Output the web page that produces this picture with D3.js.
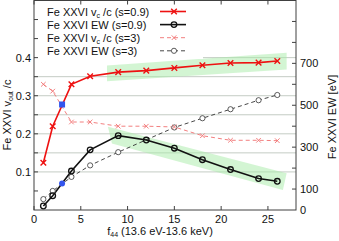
<!DOCTYPE html>
<html>
<head>
<meta charset="utf-8">
<script src="https://cdn.jsdelivr.net/npm/d3@7"></script>
<style>
  body { margin: 0; background: #fff; }
  svg text { font-family: "Liberation Sans", Arial, sans-serif; font-size: 11px; fill: #111; }
</style>
</head>
<body>
<svg id="viz"></svg>
<script>
let width = 339;
let height = 241;
let margin = {left: 34, right: 43, top: 0.5, bottom: 31};

// f44 values and series
let fS09 = [1, 2, 4, 6, 9, 12, 15, 18, 21, 24, 26];
let vcS09 = [0.124, 0.22, 0.33, 0.351, 0.362, 0.366, 0.373, 0.38, 0.386, 0.387, 0.391];
let ewS09 = [19, 68, 186, 287, 355, 334, 295, 240, 193, 150, 137];

let fVcS3 = [1, 2, 4, 6, 9, 12, 15, 18, 21, 24, 26];
let vcS3 = [0.33, 0.312, 0.231, 0.231, 0.22, 0.22, 0.218, 0.195, 0.183, 0.183, 0.182];

let fEwS3 = [1, 2, 4, 6, 9, 15, 18, 21, 24, 26];
let ewS3 = [52, 91, 158, 213, 276, 394, 438, 481, 524, 549];

// highlighted points at f44 = 3
let blueVc = [3, 0.277];
let blueEw = [3, 126];

// shaded trend bands: [f44, value]
let bandVc = [[7.8, 0.3796], [27, 0.413], [27, 0.369], [7.8, 0.3377]];
let bandEw = [[7.9, 397], [27, 175], [26.6, 95], [8.33, 317]];

let xTicks = [0, 5, 10, 15, 20, 25];
let leftTicks = [0.05, 0.1, 0.15, 0.2, 0.25, 0.3, 0.35, 0.4, 0.45, 0.5];
let leftLabels = [0.1, 0.2, 0.3, 0.4];
let gridValues = [0.1, 0.15, 0.2, 0.25, 0.3, 0.35, 0.4];
let rightTicks = [100, 200, 300, 400, 500, 600, 700, 800, 900];
let rightLabels = [0, 100, 300, 500, 700];

let legendItems = [
    {label: "Fe XXVI v", sub: "c", tail: " /c (s=0.9)", kind: "redSolid"},
    {label: "Fe XXVI EW (s=0.9)", sub: "", tail: "", kind: "blackSolid"},
    {label: "Fe XXVI v", sub: "c", tail: " /c (s=3)", kind: "redDash"},
    {label: "Fe XXVI EW (s=3)", sub: "", tail: "", kind: "blackDash"}
];

let svg = d3.select("#viz").attr("width", width).attr("height", height);

let x = d3.scaleLinear().domain([0, 28]).range([margin.left, width - margin.right]);
let yL = d3.scaleLinear().domain([0, 0.55]).range([height - margin.bottom, margin.top]);
let yR = d3.scaleLinear().domain([0, 1000]).range([height - margin.bottom, margin.top]);

let x0 = x.range()[0], x1 = x.range()[1];
let yBot = yL.range()[0], yTop = yL.range()[1];
let axisColor = "#404040";

// grid
svg.append("g").selectAll("line").data(gridValues).enter().append("line")
    .attr("x1", x0).attr("x2", x1)
    .attr("y1", d => yL(d)).attr("y2", d => yL(d))
    .attr("stroke", "#c4ccc4").attr("stroke-width", 1);

// bands
function drawBand(pts, ys) {
    svg.append("polygon")
        .attr("points", pts.map(p => x(p[0]) + "," + ys(p[1])).join(" "))
        .attr("fill", "#a8eca8").attr("fill-opacity", 0.5);
}
drawBand(bandVc, yL);
drawBand(bandEw, yR);

// legend background
svg.append("rect").attr("x", x0 + 1).attr("y", 1).attr("width", 168).attr("height", 58).attr("fill", "#fff");

// lines
function drawLine(xs, ys, scale, color, w, dash) {
    let line = d3.line().x((d, i) => x(xs[i])).y(d => scale(d));
    svg.append("path").datum(ys).attr("d", line)
        .attr("fill", "none").attr("stroke", color).attr("stroke-width", w)
        .attr("stroke-dasharray", dash);
}
function drawCross(g, cx, cy, s, color, w) {
    g.append("path")
        .attr("d", `M${cx - s},${cy - s}L${cx + s},${cy + s}M${cx - s},${cy + s}L${cx + s},${cy - s}`)
        .attr("stroke", color).attr("stroke-width", w).attr("fill", "none");
}

drawLine(fEwS3, ewS3, yR, "#333", 0.9, "4,3");
drawLine(fVcS3, vcS3, yL, "#f07070", 0.9, "4,3");
drawLine(fS09, ewS09, yR, "#111", 1.6, null);
drawLine(fS09, vcS09, yL, "#ee1111", 1.6, null);

let marks = svg.append("g");
fEwS3.forEach((f, i) => {
    marks.append("circle").attr("cx", x(f)).attr("cy", yR(ewS3[i])).attr("r", 2.6)
        .attr("fill", "#fff").attr("stroke", "#333").attr("stroke-width", 0.8);
});
fVcS3.forEach((f, i) => drawCross(marks, x(f), yL(vcS3[i]), 2.3, "#f07070", 0.9));
fS09.forEach((f, i) => {
    marks.append("circle").attr("cx", x(f)).attr("cy", yR(ewS09[i])).attr("r", 2.8)
        .attr("fill", "none").attr("stroke", "#111").attr("stroke-width", 1.3);
});
fS09.forEach((f, i) => drawCross(marks, x(f), yL(vcS09[i]), 2.8, "#ee1111", 1.4));

marks.append("rect").attr("x", x(blueVc[0]) - 3).attr("y", yL(blueVc[1]) - 3)
    .attr("width", 6).attr("height", 6).attr("fill", "#3355ee");
marks.append("circle").attr("cx", x(blueEw[0])).attr("cy", yR(blueEw[1])).attr("r", 3)
    .attr("fill", "#3355ee");

// frame
let frame = svg.append("g").attr("stroke", axisColor).attr("stroke-width", 1);
frame.append("rect").attr("x", x0).attr("y", yTop).attr("width", x1 - x0).attr("height", yBot - yTop)
    .attr("fill", "none");
xTicks.forEach(t => {
    frame.append("line").attr("x1", x(t)).attr("x2", x(t)).attr("y1", yBot).attr("y2", yBot - 4);
    frame.append("line").attr("x1", x(t)).attr("x2", x(t)).attr("y1", yTop).attr("y2", yTop + 4);
});
leftTicks.forEach(t => {
    frame.append("line").attr("x1", x0).attr("x2", x0 + 4).attr("y1", yL(t)).attr("y2", yL(t));
});
rightTicks.forEach(t => {
    frame.append("line").attr("x1", x1).attr("x2", x1 - 4).attr("y1", yR(t)).attr("y2", yR(t));
});

// tick labels
svg.append("g").selectAll("text").data(xTicks).enter().append("text")
    .attr("x", d => x(d)).attr("y", yBot + 13).attr("text-anchor", "middle").text(d => d);
svg.append("g").selectAll("text").data(leftLabels).enter().append("text")
    .attr("x", x0 - 3).attr("y", d => yL(d) + 4).attr("text-anchor", "end").text(d => d);
svg.append("g").selectAll("text").data(rightLabels).enter().append("text")
    .attr("x", x1 + 4).attr("y", d => yR(d) + 4).attr("text-anchor", "start").text(d => d);

// axis titles
let yt = svg.append("text").attr("transform", "translate(11,115) rotate(-90)").attr("text-anchor", "middle");
yt.append("tspan").text("Fe XXVI v");
yt.append("tspan").attr("font-size", "7px").attr("dy", 2).text("out");
yt.append("tspan").attr("dy", -2).text(" /c");

svg.append("text").attr("transform", "translate(336,117) rotate(-90)").attr("text-anchor", "middle")
    .text("Fe XXVI EW [eV]");

let xt = svg.append("text").attr("x", 160).attr("y", 235).attr("text-anchor", "middle");
xt.append("tspan").text("f");
xt.append("tspan").attr("font-size", "7px").attr("dy", 2).text("44");
xt.append("tspan").attr("dy", -2).text(" (13.6 eV-13.6 keV)");

// legend
let legend = svg.append("g");
legendItems.forEach((item, i) => {
    let by = 15.5 + i * 13.1;
    let t = legend.append("text").attr("x", 47).attr("y", by);
    t.append("tspan").text(item.label);
    if (item.sub) {
        t.append("tspan").attr("font-size", "7px").attr("dy", 2).text(item.sub);
        t.append("tspan").attr("dy", -2).text(item.tail);
    }
    let ly = by - 4;
    let sx0 = 160, sx1 = 186, mx = 174;
    if (item.kind === "redSolid") {
        legend.append("line").attr("x1", sx0).attr("x2", sx1).attr("y1", ly).attr("y2", ly)
            .attr("stroke", "#ee1111").attr("stroke-width", 1.6);
        drawCross(legend, mx, ly, 2.8, "#ee1111", 1.4);
    } else if (item.kind === "blackSolid") {
        legend.append("line").attr("x1", sx0).attr("x2", sx1).attr("y1", ly).attr("y2", ly)
            .attr("stroke", "#111").attr("stroke-width", 1.6);
        legend.append("circle").attr("cx", mx).attr("cy", ly).attr("r", 2.8)
            .attr("fill", "none").attr("stroke", "#111").attr("stroke-width", 1.3);
    } else if (item.kind === "redDash") {
        legend.append("line").attr("x1", sx0).attr("x2", sx1).attr("y1", ly).attr("y2", ly)
            .attr("stroke", "#f07070").attr("stroke-width", 0.9).attr("stroke-dasharray", "4,3");
        drawCross(legend, mx, ly, 2.3, "#f07070", 0.9);
    } else {
        legend.append("line").attr("x1", sx0).attr("x2", sx1).attr("y1", ly).attr("y2", ly)
            .attr("stroke", "#333").attr("stroke-width", 0.9).attr("stroke-dasharray", "4,3");
        legend.append("circle").attr("cx", mx).attr("cy", ly).attr("r", 2.6)
            .attr("fill", "#fff").attr("stroke", "#333").attr("stroke-width", 0.8);
    }
});
</script>
</body>
</html>
